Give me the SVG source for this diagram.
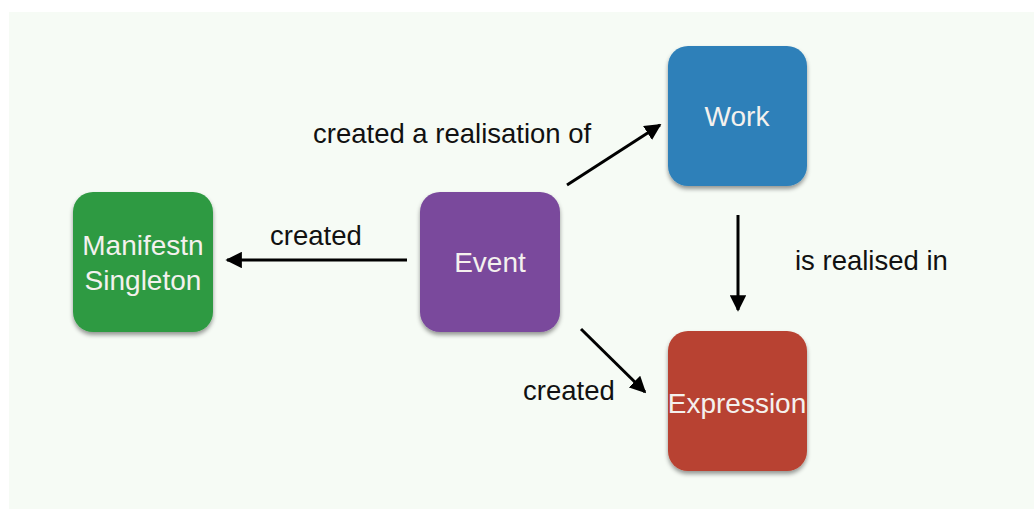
<svg xmlns="http://www.w3.org/2000/svg" width="1034" height="510" viewBox="0 0 1034 510">
<style>
.node{stroke:none;filter:url(#sh)}
.nt{font-family:"Liberation Sans",Arial,sans-serif;font-size:28px;fill:#f4f1ee;text-anchor:middle}
.lbl{font-family:"Liberation Sans",Arial,sans-serif;font-size:27.5px;fill:#111}
.edge{stroke:#000;stroke-width:3;fill:none;marker-end:url(#ah)}
</style>
<defs>
<marker id="ah" viewBox="0 0 10 10" refX="9" refY="5" markerWidth="5.5" markerHeight="5.5" orient="auto" markerUnits="strokeWidth">
<path d="M0,0 L10,5 L0,10 z" fill="#000"/>
</marker>
<filter id="sh" x="-10%" y="-10%" width="120%" height="125%">
<feDropShadow dx="0" dy="3" stdDeviation="2" flood-color="#000" flood-opacity="0.4"/>
</filter>
</defs>
<rect x="0" y="0" width="1034" height="510" fill="#ffffff"/>
<rect x="9" y="12" width="1025" height="497" fill="#f6fbf5"/>
<g id="connectors">
<line class="edge" x1="407" y1="260" x2="227" y2="260"/>
<line class="edge" x1="567" y1="185" x2="660" y2="125"/>
<line class="edge" x1="738" y1="215" x2="738" y2="310"/>
<line class="edge" x1="581" y1="329" x2="645" y2="392"/>
<text class="lbl" x="313" y="143">created a realisation of</text>
<text class="lbl" x="270" y="245">created</text>
<text class="lbl" x="795" y="270">is realised in</text>
<text class="lbl" x="523" y="400">created</text>
</g>
<g id="manifestn">
<rect class="node" x="73" y="192" width="140" height="140" rx="20" fill="#2f9a42"/>
<text class="nt" x="143" y="255">Manifestn</text>
<text class="nt" x="143" y="290">Singleton</text>
</g>
<g id="event">
<rect class="node" x="420" y="192" width="140" height="140" rx="20" fill="#7a4a9c"/>
<text class="nt" x="490" y="272">Event</text>
</g>
<g id="work">
<rect class="node" x="668" y="46" width="139" height="140" rx="20" fill="#2f80b9"/>
<text class="nt" x="737" y="126">Work</text>
</g>
<g id="expression">
<rect class="node" x="668" y="331" width="139" height="140" rx="20" fill="#b84231"/>
<text class="nt" x="737" y="413">Expression</text>
</g>
</svg>
